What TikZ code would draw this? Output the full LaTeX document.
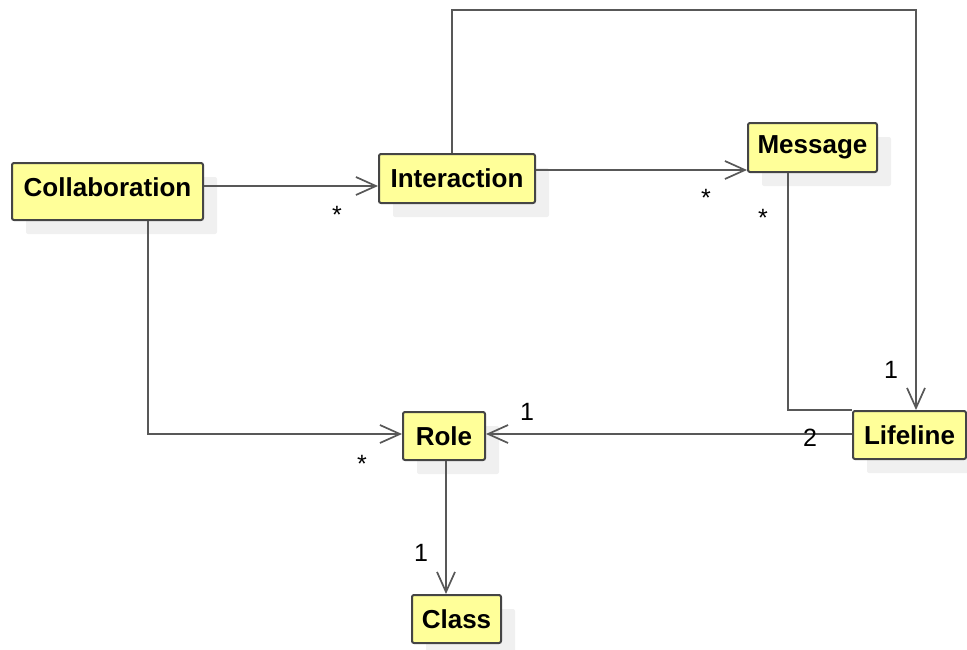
\documentclass[tikz,border=0pt]{standalone}
\usepackage{fontspec}
\setmainfont{Liberation Sans}
\usetikzlibrary{arrows.meta,shadows}
\definecolor{classfill}{HTML}{FFFF99}
\definecolor{classedge}{HTML}{454545}
\definecolor{wire}{HTML}{585858}
\definecolor{shade}{HTML}{F0F0F0}
\tikzset{
  classfont/.style={font=\fontsize{26}{30}\selectfont\bfseries},
  classbox/.style={draw=classedge, fill=classfill, line width=2pt, rounded corners=2pt,
    inner sep=0pt, classfont,
    drop shadow={shadow xshift=14pt, shadow yshift=-14pt, fill=shade, opacity=1, draw=none}},
  assoc/.style={draw=wire, line width=2pt, -{Straight Barb[length=20pt,width=18pt,line width=1.7pt]}},
  link/.style={draw=wire, line width=2pt},
  mult/.style={inner sep=0pt, font=\fontsize{25}{30}\selectfont}
}
\begin{document}
\begin{tikzpicture}[x=1pt,y=-1pt]
  \useasboundingbox (0,0) rectangle (967,649);
  % classes
  \node[classbox, minimum width=191pt, minimum height=57pt] (collab) at (107.5,191.5) {};
  \node[classfont, inner sep=0pt] (collabname) at ([yshift=4pt]collab.center) {Collaboration};
  \node[classbox, minimum width=156pt, minimum height=49pt] (inter) at (457,178.5) {Interaction};
  \node[classbox, minimum width=129pt, minimum height=49pt] (msg) at (812.5,147.5) {Message};
  \node[classbox, minimum width=113pt, minimum height=48pt] (life) at (909.5,435) {Lifeline};
  \node[classbox, minimum width=82pt, minimum height=48pt] (role) at (444,436) {Role};
  \node[classbox, minimum width=89pt, minimum height=48pt] (class) at (456.5,619) {Class};
  \coordinate (top) at (0,10);
  % associations
  \draw[assoc] ([yshift=5.5pt]collab.east) -- ([yshift=5.5pt]collab.east -| inter.west);
  \draw[assoc] ([yshift=8.5pt]inter.east) -- ([yshift=8.5pt]inter.east -| msg.west);
  \draw[assoc] ([xshift=-5pt]inter.north) -- ([xshift=-5pt]inter.north |- top) -| ([xshift=6.5pt]life.north);
  \draw[link] ([xshift=-24.5pt]msg.south) |- (life.north west);
  \draw[assoc] ([yshift=1pt]life.west) -- ([yshift=1pt]life.west -| role.east);
  \draw[assoc] ([xshift=40.5pt]collab.south) |- ([yshift=2pt]role.west);
  \draw[assoc] ([xshift=2pt]role.south) -- ([xshift=2pt]role.south |- class.north);
  % multiplicities
  \node[mult] (m1) at (337,215) {*};
  \node[mult] (m2) at (706,198) {*};
  \node[mult] (m3) at (763,218) {*};
  \node[mult] (m4) at (891,370) {1};
  \node[mult] (m5) at (527,412) {1};
  \node[mult] (m6) at (810,438) {2};
  \node[mult] (m7) at (362,464) {*};
  \node[mult] (m8) at (421,553) {1};
\end{tikzpicture}
\end{document}
